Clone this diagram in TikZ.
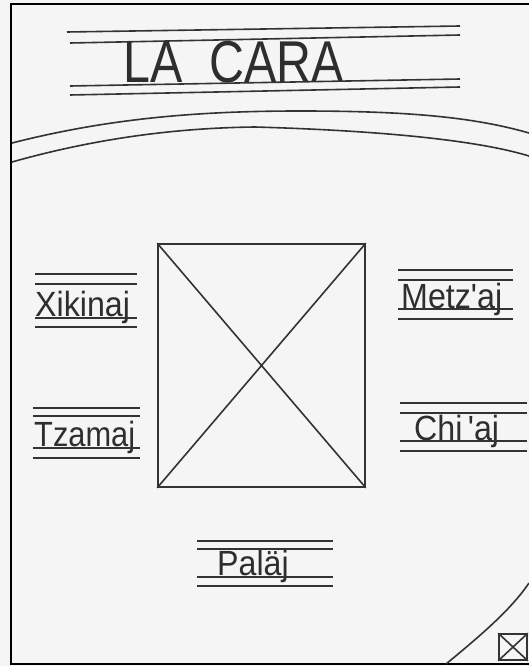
\documentclass[tikz,border=0pt]{standalone}
\usepackage{fontspec}
\setsansfont{Liberation Sans}

\begin{document}
\begin{tikzpicture}[x=1pt,y=-1pt,font=\sffamily,
  ink/.style={draw=black!80,line width=1.6pt},
  word/.style={anchor=base west,inner sep=0pt,text=black!82,font=\sffamily\fontsize{35}{35}\selectfont},
  crossbox/.style={draw=black!80,line width=1.6pt,inner sep=0pt,minimum width=#1}]
\useasboundingbox (0,0) rectangle (529,666);
\fill[black!4] (0,0) rectangle (529,666);
\draw[line width=2.6pt] (529,4) -- (11,4) -- (11,664) -- (529,664);

\draw[ink] (67,32) -- (460,26);
\draw[ink] (70,43) -- (460,35);
\node[word,font=\sffamily\fontsize{59}{59}\selectfont] (title) at (123,83) {\scalebox{.82}[1]{LA\ \ CARA}};
\draw[ink] (70,86) -- (460,79);
\draw[ink] (70,95) -- (460,87);

\draw[ink] (12,143) .. controls (110,118) and (200,111) .. (300,111) .. controls (400,111) and (470,116) .. (529,133);
\draw[ink] (12,162) .. controls (90,140) and (170,128) .. (255,127) .. controls (360,130) and (470,138) .. (529,156);
\draw[ink] (446,664) .. controls (485,632) and (512,608) .. (529,583);

\node[crossbox=207pt,minimum height=243pt] (face) at (261.5,365.5) {};
\draw[ink] (face.north west) -- (face.south east) (face.north east) -- (face.south west);

\draw[ink] (35,274) -- (137,274) (35,284) -- (137,284);
\node[word] (xikinaj) at (35,316) {\scalebox{.92}[1]{Xikinaj}};
\draw[ink] (35,318) -- (137,318) (35,327) -- (137,327);

\draw[ink] (33,408) -- (140,408) (33,416) -- (140,416);
\node[word] (tzamaj) at (34,446) {\scalebox{.88}[1]{Tzamaj}};
\draw[ink] (33,448) -- (140,448) (33,458) -- (140,458);

\draw[ink] (398,270) -- (513,270) (398,280) -- (513,280);
\node[word] (metzaj) at (401,308) {\scalebox{.92}[1]{Metz\textquotesingle aj}};
\draw[ink] (398,309) -- (513,309) (398,319) -- (513,319);

\draw[ink] (400,403) -- (527,403) (400,413) -- (527,413);
\node[word] (chiaj) at (414,440) {\scalebox{.92}[1]{Chi\,\textquotesingle aj}};
\draw[ink] (400,441) -- (527,441) (400,451) -- (527,451);

\draw[ink] (197,541) -- (333,541) (197,549) -- (333,549);
\node[word] (palaj) at (217,575) {\scalebox{.92}[1]{Paläj}};
\draw[ink] (197,577) -- (333,577) (197,586) -- (333,586);

\node[crossbox=28pt,minimum height=26pt] (mini) at (513,647) {};
\draw[ink] (mini.north west) -- (mini.south east) (mini.north east) -- (mini.south west);
\end{tikzpicture}
\end{document}
